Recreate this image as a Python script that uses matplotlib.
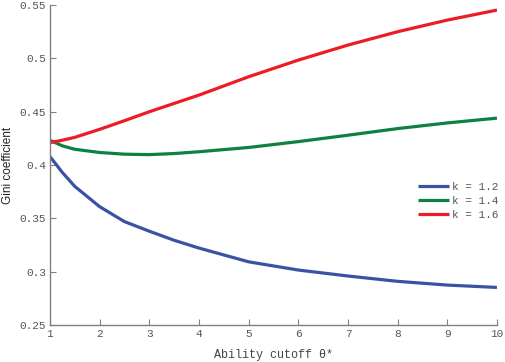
import matplotlib
matplotlib.use("Agg")
import matplotlib.pyplot as plt

# ability cutoff values and Gini coefficient
theta = [1, 1.25, 1.5, 2, 2.5, 3, 3.5, 4, 5, 6, 7, 8, 9, 10]
gini_k12 = [0.408, 0.393, 0.380, 0.361, 0.347, 0.338, 0.3295, 0.3222, 0.3093, 0.3016,
            0.296, 0.291, 0.2875, 0.2853]
gini_k14 = [0.4232, 0.418, 0.4148, 0.4118, 0.4102, 0.4098, 0.4108, 0.4125, 0.4165, 0.422,
            0.428, 0.4342, 0.4395, 0.444]
gini_k16 = [0.421, 0.4233, 0.426, 0.4335, 0.4416, 0.450, 0.4578, 0.4656, 0.4828, 0.4984,
            0.5125, 0.525, 0.5359, 0.5453]
labels = ['k = 1.2', 'k = 1.4', 'k = 1.6']
colors = ['#3953a4', '#0e8040', '#ed1c24']

mono = 'Liberation Mono'
spine_col = '#808080'

fig = plt.figure(figsize=(5.05, 3.62), dpi=100)
ax = fig.add_axes([0.099, 0.102, 0.885, 0.884])

for ys, lab, c in zip([gini_k12, gini_k14, gini_k16], labels, colors):
    ax.plot(theta, ys, color=c, lw=2.3, label=lab, solid_capstyle='butt',
            solid_joinstyle='round')

ax.set_xlim(1, 10)
ax.set_ylim(0.25, 0.55)
ax.set_xticks(range(1, 11))
ax.set_yticks([0.25, 0.3, 0.35, 0.4, 0.45, 0.5, 0.55])
ax.set_yticklabels(['0.25', '0.3', '0.35', '0.4', '0.45', '0.5', '0.55'])

for s in ['top', 'right']:
    ax.spines[s].set_visible(False)
for s in ['left', 'bottom']:
    ax.spines[s].set_color(spine_col)
    ax.spines[s].set_linewidth(1.0)

ax.tick_params(direction='in', length=4, width=0.8, color=spine_col,
               labelcolor='#555555', labelsize=8, pad=3)
for t in ax.get_xticklabels() + ax.get_yticklabels():
    t.set_fontfamily(mono)

ax.set_xlabel('Ability cutoff θ*', fontfamily=mono, fontsize=8.5, color='#444444', labelpad=7)
ax.set_ylabel('Gini coefficient', fontfamily='Liberation Sans', fontsize=8.5, color='#222222', labelpad=4)

leg = ax.legend(loc='upper left', bbox_to_anchor=(0.811, 0.465), frameon=False,
                prop={'family': mono, 'size': 8}, handlelength=2.8,
                handletextpad=0.3, labelspacing=0.35, borderpad=0)
for t in leg.get_texts():
    t.set_color('#555555')

fig.savefig('out.png', dpi=100)
